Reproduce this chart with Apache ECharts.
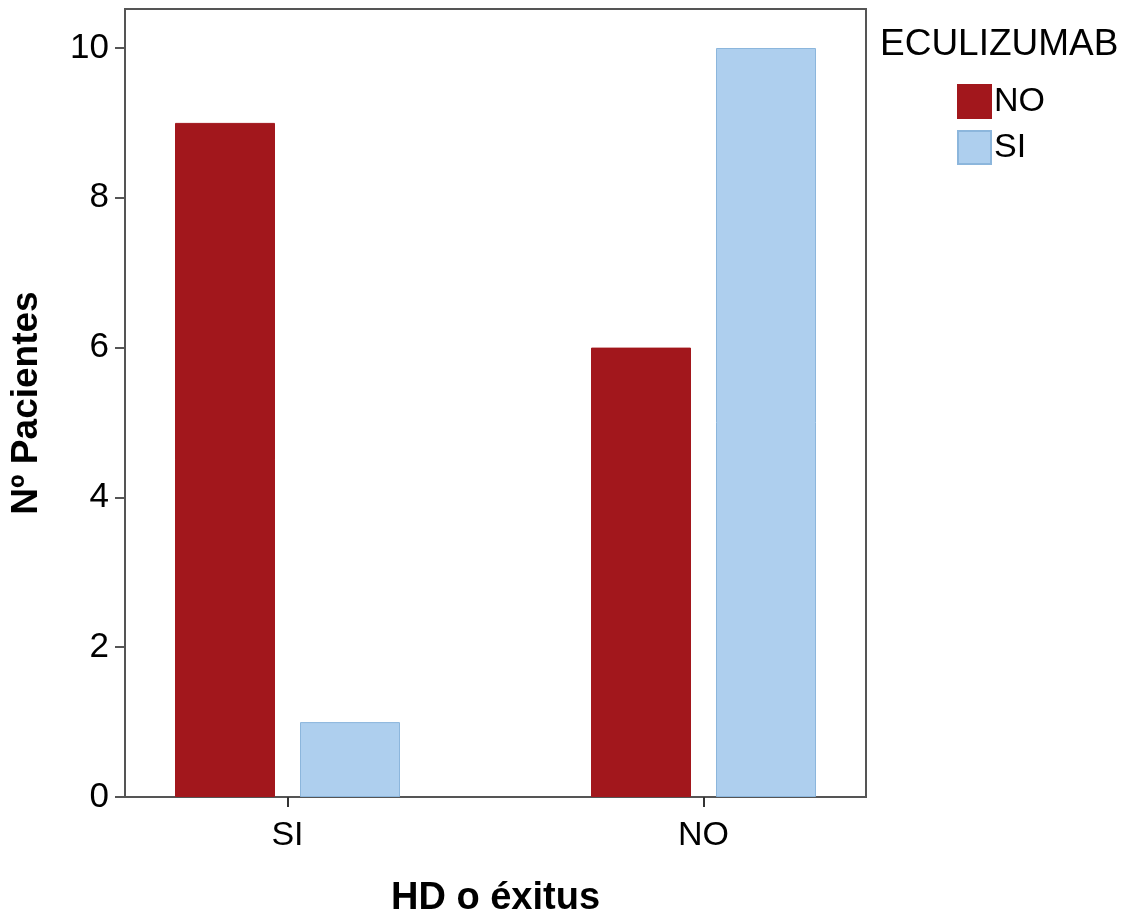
<!DOCTYPE html>
<html>
<head>
<meta charset="utf-8">
<script src="https://cdn.jsdelivr.net/npm/echarts@6/dist/echarts.min.js"></script>
<style>html,body{margin:0;padding:0;background:#fff}#c{width:1130px;height:915px}</style>
</head>
<body>
<div id="c"></div>
<script>
var categories = ['SI', 'NO'];
var seriesNames = ['NO', 'SI'];
var valuesNO = [9, 6];
var valuesSI = [1, 10];
var yTicks = [0, 2, 4, 6, 8, 10];

var FONT = 'Liberation Sans, Arial, sans-serif';
var chart = echarts.init(document.getElementById('c'));
chart.setOption({
  animation: false,
  backgroundColor: '#fff',
  title: {
    text: 'ECULIZUMAB', left: 875, top: 21,
    textStyle: { fontFamily: FONT, fontSize: 37, fontWeight: 'normal', color: '#000' }
  },
  legend: {
    data: seriesNames, orient: 'vertical', left: 952, top: 79,
    itemWidth: 33, itemHeight: 33, itemGap: 11, icon: 'rect',
    textStyle: { fontFamily: FONT, fontSize: 34, color: '#000', padding: [0, 0, 0, -2] }
  },
  grid: [
    { left: 125, right: 264, top: 9, bottom: 118, show: true, borderColor: '#555', borderWidth: 2, backgroundColor: 'transparent', outerBoundsMode: 'none', containLabel: false },
    { left: 125, right: 264, top: 48, bottom: 118, outerBoundsMode: 'none', containLabel: false },
    { left: 79.5, right: 218.5, top: 48, bottom: 118, outerBoundsMode: 'none', containLabel: false }
  ],
  xAxis: [
    { gridIndex: 0, type: 'value', min: 0, max: 1,
      axisLine: { show: true, lineStyle: { color: '#555', width: 2 } },
      axisTick: { show: false }, axisLabel: { show: false }, splitLine: { show: false },
      name: 'HD o éxitus', nameLocation: 'middle', nameGap: 83,
      nameTextStyle: { fontFamily: FONT, fontSize: 38, fontWeight: 'bold', color: '#000' } },
    { gridIndex: 1, type: 'value', min: 0, max: 1, show: false },
    { gridIndex: 2, type: 'category', data: categories,
      axisLine: { show: false },
      axisTick: { show: true, alignWithLabel: true, length: 10, lineStyle: { color: '#333', width: 2 } },
      axisLabel: { fontFamily: FONT, fontSize: 34, color: '#000', margin: 22 } }
  ],
  yAxis: [
    { gridIndex: 0, type: 'value', min: 0, max: 1,
      axisLine: { show: true, lineStyle: { color: '#555', width: 2 } },
      axisTick: { show: false }, axisLabel: { show: false }, splitLine: { show: false },
      name: 'Nº Pacientes', nameLocation: 'middle', nameGap: 80,
      nameTextStyle: { fontFamily: FONT, fontSize: 37, fontWeight: 'bold', color: '#000' } },
    { gridIndex: 1, type: 'value', min: yTicks[0], max: yTicks[yTicks.length - 1], interval: 2,
      axisLine: { show: false },
      axisTick: { show: true, length: 10, lineStyle: { color: '#555', width: 2 } },
      axisLabel: { fontFamily: FONT, fontSize: 35, color: '#000', margin: 16 },
      splitLine: { show: false } },
    { gridIndex: 2, type: 'value', min: yTicks[0], max: yTicks[yTicks.length - 1], show: false }
  ],
  series: [
    { name: seriesNames[0], type: 'bar', xAxisIndex: 2, yAxisIndex: 2, data: valuesNO,
      barWidth: 100, barGap: '25%',
      itemStyle: { color: '#a2171c', borderColor: '#a2171c', borderWidth: 1 } },
    { name: seriesNames[1], type: 'bar', xAxisIndex: 2, yAxisIndex: 2, data: valuesSI,
      barWidth: 100, barGap: '25%',
      itemStyle: { color: '#aecfee', borderColor: '#8cb6dc', borderWidth: 1 } }
  ]
});
</script>
</body>
</html>
